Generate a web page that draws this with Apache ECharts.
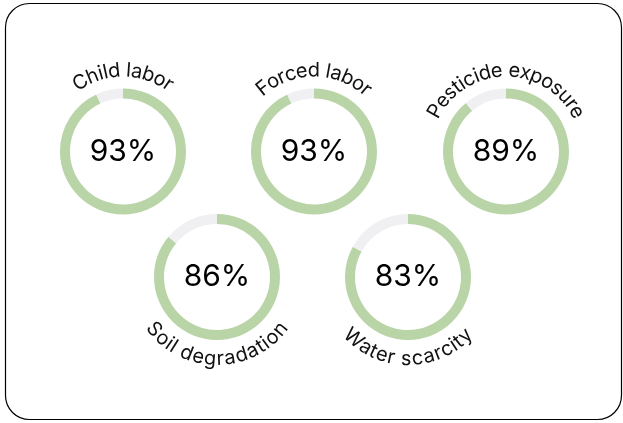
<!DOCTYPE html>
<html>
<head>
<meta charset="utf-8">
<script src="https://cdn.jsdelivr.net/npm/echarts@6/dist/echarts.min.js"></script>
<style>
  html, body { margin: 0; padding: 0; background: #fff; }
  #chart { width: 623px; height: 423px; }
</style>
</head>
<body>
<div id="chart"></div>
<script>
// ---- data ----
const categories = ['Child labor', 'Forced labor', 'Pesticide exposure', 'Soil degradation', 'Water scarcity'];
const values = [93, 93, 89, 86, 83];
const labelSides = ['top', 'top', 'top', 'bottom', 'bottom'];

// ---- layout / style ----
const centers = [[123, 151.5], [314, 151.5], [506, 151.5], [217, 277], [408, 277]];
const GREEN = '#b9d5a8';
const GREY = '#f0f0f3';
const FONT_FAMILY = 'Inter, "Noto Sans", sans-serif';
const LABEL_SIZE = 20;
const R_IN = 53, R_OUT = 63;

const chart = echarts.init(document.getElementById('chart'), null, { renderer: 'canvas' });

const measureCtx = document.createElement('canvas').getContext('2d');
function curvedText(text, cx, cy, R, side) {
  measureCtx.font = LABEL_SIZE + 'px ' + FONT_FAMILY;
  const spacing = 0.2;
  const chars = Array.from(text);
  let widths = chars.map((ch, i) => {
    const a = measureCtx.measureText(chars.slice(0, i + 1).join('')).width;
    const b = measureCtx.measureText(chars.slice(0, i).join('')).width;
    return a - b + spacing;
  });
  const total = widths.reduce((s, w) => s + w, 0);
  let acc = 0;
  return chars.map((ch, i) => {
    const mid = acc + widths[i] / 2 - total / 2;
    acc += widths[i];
    const a = mid / R;
    const x = cx + R * Math.sin(a);
    const y = side === 'top' ? cy - R * Math.cos(a) : cy + R * Math.cos(a);
    return {
      type: 'text',
      x: x, y: y,
      rotation: side === 'top' ? -a : a,
      silent: true,
      style: {
        text: ch,
        fill: '#111',
        font: LABEL_SIZE + 'px ' + FONT_FAMILY,
        align: 'center',
        verticalAlign: 'middle'
      }
    };
  });
}

const series = categories.map((name, i) => ({
  type: 'pie',
  name: name,
  center: centers[i],
  radius: [R_IN, R_OUT],
  startAngle: 90,
  clockwise: true,
  silent: true,
  animation: false,
  emphasis: { disabled: true },
  labelLine: { show: false },
  data: [
    {
      value: values[i], name: name,
      itemStyle: { color: GREEN },
      label: {
        show: true, position: 'center', formatter: '{c}%',
        fontSize: 30, color: '#000', fontFamily: FONT_FAMILY, fontWeight: 400
      }
    },
    {
      value: 100 - values[i], name: name + ' rest',
      itemStyle: { color: GREY },
      label: { show: false }
    }
  ]
}));

const graphics = [{
  type: 'rect',
  shape: { x: 5.5, y: 3.5, width: 616, height: 416, r: 24 },
  style: { fill: 'none', stroke: '#000', lineWidth: 1.2 },
  silent: true
}];
categories.forEach((name, i) => {
  const R = labelSides[i] === 'top' ? 81 : 82;
  graphics.push(...curvedText(name, centers[i][0], centers[i][1], R, labelSides[i]));
});

chart.setOption({
  backgroundColor: '#fff',
  animation: false,
  series: series,
  graphic: graphics
});
</script>
</body>
</html>
